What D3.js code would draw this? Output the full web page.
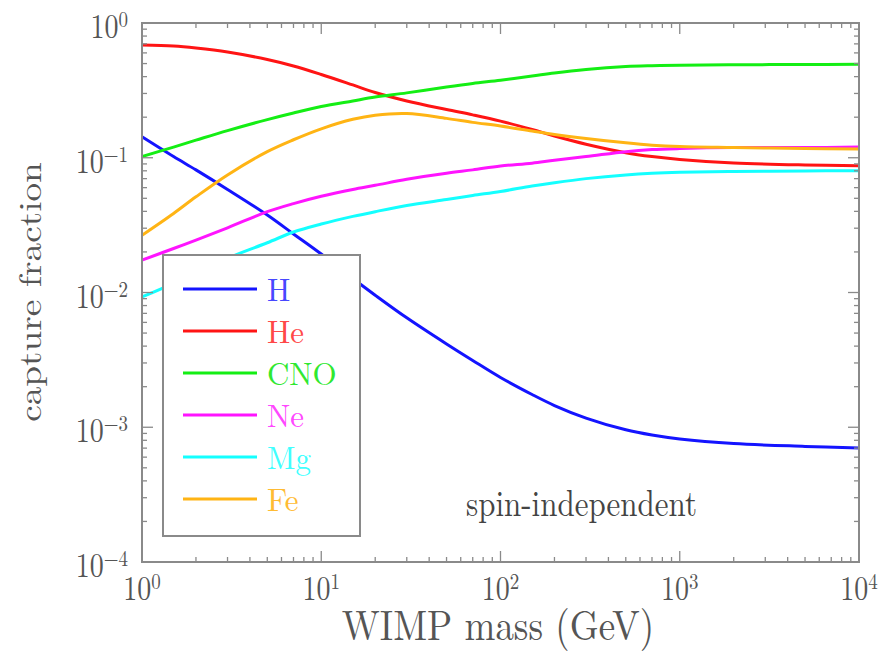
<!DOCTYPE html>
<html>
<head>
<meta charset="utf-8">
<style>
  body { margin: 0; background: #fff; }
</style>
</head>
<body>
<script src="https://d3js.org/d3.v7.min.js"></script>
<script>
// WIMP mass grid (GeV)
var masses = [1, 1.5, 2, 3, 5, 7, 10, 15, 20, 30, 50, 70, 100, 150, 200, 300, 500, 700, 1000, 2000, 5000, 10000];

// capture fraction per element
var H   = [0.143, 0.102, 0.0813, 0.0582, 0.0376, 0.0272, 0.0193, 0.0127, 0.00955, 0.00649, 0.00415, 0.00313, 0.00234, 0.00175, 0.00145, 0.00117, 0.000957, 0.000875, 0.000818, 0.000757, 0.000721, 0.000701];
var He  = [0.687, 0.675, 0.652, 0.609, 0.536, 0.480, 0.415, 0.347, 0.305, 0.264, 0.228, 0.208, 0.187, 0.162, 0.145, 0.126, 0.109, 0.102, 0.097, 0.0914, 0.0884, 0.0873];
var CNO = [0.102, 0.120, 0.135, 0.159, 0.192, 0.215, 0.240, 0.264, 0.282, 0.303, 0.335, 0.356, 0.376, 0.404, 0.426, 0.452, 0.475, 0.482, 0.486, 0.490, 0.492, 0.494];
var Ne  = [0.0174, 0.0212, 0.0245, 0.0302, 0.0398, 0.0457, 0.0518, 0.0582, 0.0624, 0.0692, 0.0767, 0.0813, 0.0869, 0.0912, 0.0959, 0.102, 0.111, 0.115, 0.117, 0.119, 0.119, 0.120];
var Mg  = [0.00927, 0.0117, 0.0141, 0.0180, 0.0234, 0.0281, 0.0322, 0.0367, 0.0398, 0.0442, 0.0490, 0.0525, 0.0562, 0.0617, 0.0653, 0.0700, 0.0746, 0.0767, 0.0780, 0.0791, 0.0798, 0.0802];
var Fe  = [0.0266, 0.0386, 0.0513, 0.0746, 0.111, 0.136, 0.164, 0.193, 0.207, 0.213, 0.196, 0.183, 0.172, 0.158, 0.149, 0.139, 0.129, 0.124, 0.121, 0.119, 0.117, 0.116];

var names = ['H', 'He', 'CNO', 'Ne', 'Mg', 'Fe'];
var lineColors = ['#1414ff', '#ff1414', '#14ee14', '#ff14ff', '#14ffff', '#ffb414'];
var textColors = ['#4848ff', '#ff4848', '#30e830', '#ff48ff', '#40ffff', '#ffbb33'];

var xTicks = [1, 10, 100, 1000, 10000];
var xTickExp = ['0', '1', '2', '3', '4'];
var yTicks = [1, 0.1, 0.01, 0.001, 0.0001];
var yTickExp = ['0', '\u22121', '\u22122', '\u22123', '\u22124'];

var series = [H, He, CNO, Ne, Mg, Fe];

var width = 891, height = 654;
var plot = { left: 142, right: 859, top: 23, bottom: 562 };
var font = '"Latin Modern Roman", "Liberation Serif", serif';
var stretch = 1.2; // the source figure's text is drawn a bit taller than wide

var svg = d3.select('body').append('svg')
  .attr('width', width)
  .attr('height', height)
  .attr('font-family', font);

var x = d3.scaleLog().domain([1, 1e4]).range([plot.left, plot.right]);
var y = d3.scaleLog().domain([1e-4, 1]).range([plot.bottom, plot.top]);

function place(px, py, s) {
  return 'translate(' + px + ',' + py + ') scale(1,' + (s || stretch) + ')';
}

svg.append('clipPath').attr('id', 'clip')
  .append('rect')
  .attr('x', plot.left).attr('y', plot.top)
  .attr('width', plot.right - plot.left).attr('height', plot.bottom - plot.top);

// curves
var line = d3.line()
  .x(function(d) { return x(d[0]); })
  .y(function(d) { return y(d[1]); })
  .curve(d3.curveCatmullRom.alpha(0.5));

svg.append('g').attr('clip-path', 'url(#clip)')
  .selectAll('path')
  .data(series)
  .join('path')
    .attr('fill', 'none')
    .attr('stroke', function(d, i) { return lineColors[i]; })
    .attr('stroke-width', 3)
    .attr('d', function(vals) {
      return line(masses.map(function(m, j) { return [m, vals[j]]; }));
    });

// ticks, all pointing inwards
var frameColor = '#8a8a8a';
var major = 11, minor = 5;

function minorValues(scale) {
  var out = [];
  var d = scale.domain();
  for (var e = Math.round(Math.log10(d[0])); e < Math.round(Math.log10(d[1])); e++) {
    for (var k = 2; k <= 9; k++) out.push(k * Math.pow(10, e));
  }
  return out;
}

var ticks = svg.append('g').attr('stroke', frameColor).attr('stroke-width', 1.3);

xTicks.forEach(function(v) {
  ticks.append('line').attr('x1', x(v)).attr('x2', x(v)).attr('y1', plot.bottom).attr('y2', plot.bottom - major);
  ticks.append('line').attr('x1', x(v)).attr('x2', x(v)).attr('y1', plot.top).attr('y2', plot.top + major);
});
minorValues(x).forEach(function(v) {
  ticks.append('line').attr('x1', x(v)).attr('x2', x(v)).attr('y1', plot.bottom).attr('y2', plot.bottom - minor);
  ticks.append('line').attr('x1', x(v)).attr('x2', x(v)).attr('y1', plot.top).attr('y2', plot.top + minor);
});
yTicks.forEach(function(v) {
  ticks.append('line').attr('y1', y(v)).attr('y2', y(v)).attr('x1', plot.left).attr('x2', plot.left + major);
  ticks.append('line').attr('y1', y(v)).attr('y2', y(v)).attr('x1', plot.right).attr('x2', plot.right - major);
});
minorValues(y).forEach(function(v) {
  ticks.append('line').attr('y1', y(v)).attr('y2', y(v)).attr('x1', plot.left).attr('x2', plot.left + minor);
  ticks.append('line').attr('y1', y(v)).attr('y2', y(v)).attr('x1', plot.right).attr('x2', plot.right - minor);
});

svg.append('rect')
  .attr('x', plot.left).attr('y', plot.top)
  .attr('width', plot.right - plot.left).attr('height', plot.bottom - plot.top)
  .attr('fill', 'none').attr('stroke', frameColor).attr('stroke-width', 2);

// tick labels
var labelColor = '#555';
var xl = svg.append('g').selectAll('text')
  .data(xTicks)
  .join('text')
    .attr('transform', function(d) { return place(x(d), plot.bottom + 38); })
    .attr('text-anchor', 'middle')
    .attr('fill', labelColor)
    .attr('font-size', 28)
    .text('10');
xl.append('tspan')
  .attr('dy', -9)
  .attr('font-size', 19)
  .text(function(d, i) { return xTickExp[i]; });

var yl = svg.append('g').selectAll('text')
  .data(yTicks)
  .join('text')
    .attr('transform', function(d) { return place(128, y(d) + 15); })
    .attr('text-anchor', 'end')
    .attr('fill', labelColor)
    .attr('font-size', 28)
    .text('10');
yl.append('tspan')
  .attr('dy', -9)
  .attr('font-size', 19)
  .text(function(d, i) { return yTickExp[i]; });

// axis titles
svg.append('text')
  .attr('transform', place(498, 640, 1.16))
  .attr('text-anchor', 'middle')
  .attr('fill', labelColor)
  .attr('font-size', 37)
  .text('WIMP mass (GeV)');

svg.append('text')
  .attr('transform', 'translate(41,292) rotate(-90) scale(' + stretch + ',1)')
  .attr('text-anchor', 'middle')
  .attr('fill', labelColor)
  .attr('font-size', 31)
  .text('capture fraction');

svg.append('text')
  .attr('transform', place(466, 516))
  .attr('fill', '#444')
  .attr('font-size', 31)
  .text('spin-independent');

// legend
var legend = svg.append('g');
legend.append('rect')
  .attr('x', 163).attr('y', 255)
  .attr('width', 197).attr('height', 281)
  .attr('fill', '#fff')
  .attr('stroke', frameColor).attr('stroke-width', 2);

var rows = legend.selectAll('g.row')
  .data(names)
  .join('g')
    .attr('class', 'row')
    .attr('transform', function(d, i) { return 'translate(0,' + (289 + i * 42) + ')'; });
rows.append('line')
  .attr('x1', 183).attr('x2', 257)
  .attr('stroke', function(d, i) { return lineColors[i]; })
  .attr('stroke-width', 3);
rows.append('text')
  .attr('transform', place(267, 12, 1.02))
  .attr('fill', function(d, i) { return textColors[i]; })
  .attr('font-size', 31)
  .text(function(d) { return d; });
</script>
</body>
</html>
